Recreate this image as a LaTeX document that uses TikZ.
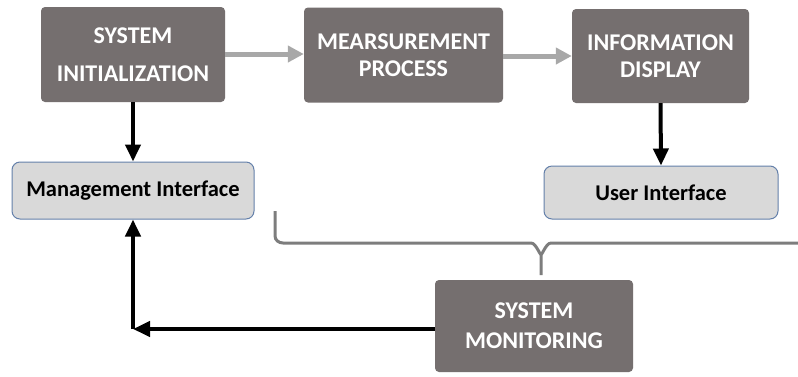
\documentclass[tikz,border=0pt]{standalone}
\usepackage{fontspec}
\setmainfont{Carlito}
\usetikzlibrary{arrows.meta}
\definecolor{darkbox}{RGB}{117,111,111}
\definecolor{lightbox}{RGB}{217,217,217}
\definecolor{lightedge}{RGB}{100,128,170}
\definecolor{grayarrow}{RGB}{168,168,168}
\definecolor{bracegray}{RGB}{125,125,125}
\begin{document}
\begin{tikzpicture}[x=1pt,y=-1pt,
  darkstep/.style={draw=none, fill=darkbox, rounded corners=4pt, text=white, align=center, inner sep=0pt, font=\bfseries},
  lightstep/.style={draw=lightedge, line width=1pt, fill=lightbox, rounded corners=8pt, text=black, align=center, inner sep=0pt, font=\bfseries\fontsize{22.5}{27}\selectfont},
  grayflow/.style={draw=grayarrow, line width=5pt, -{Triangle[length=16pt,width=16pt]}},
  blackflow/.style={draw=black, line width=4pt, -{Triangle[length=17pt,width=15pt]}},
  bracestyle/.style={draw=bracegray, line width=3pt}
]
\useasboundingbox[fill=white] (0,0) rectangle (798,376);

\node[darkstep, minimum width=184pt, minimum height=95pt, font=\bfseries\fontsize{24}{38}\selectfont] (si) at (133,54.5) {SYSTEM\\INITIALIZATION};
\node[darkstep, minimum width=199pt, minimum height=95pt, font=\bfseries\fontsize{24}{27}\selectfont] (mp) at (403.5,55) {MEARSUREMENT\\PROCESS};
\node[darkstep, minimum width=177pt, minimum height=94pt, font=\bfseries\fontsize{24}{27}\selectfont] (id) at (660.5,56) {INFORMATION\\DISPLAY};
\node[lightstep, minimum width=242pt, minimum height=57pt] (mi) at (133,190.5) {Management Interface};
\node[lightstep, minimum width=234pt, minimum height=53pt] (ui) at (661,192.5) {User Interface};
\node[darkstep, minimum width=198pt, minimum height=92pt, font=\bfseries\fontsize{24}{30}\selectfont] (sm) at (534,326) {SYSTEM\\MONITORING};

\draw[grayflow] (si.east |- 0,54) -- (mp.west |- 0,54);
\draw[grayflow] (mp.east |- 0,56) -- (id.west |- 0,56);
\draw[blackflow] (si.south) -- (mi.north);
\draw[blackflow] (id.south) -- (ui.north);
\coordinate (corner) at (133,329);
\draw[blackflow] (sm.west |- corner) -- (corner);
\draw[blackflow] (corner) -- (mi.south);

\draw[bracestyle] (275,211) -- (275,236) to[out=-90,in=180] (283,243) -- (531,243) to[out=0,in=-90] (541,253) -- (541,275);
\draw[bracestyle] (541,253) to[out=-90,in=180] (551,243) -- (798,243);
\end{tikzpicture}
\end{document}
